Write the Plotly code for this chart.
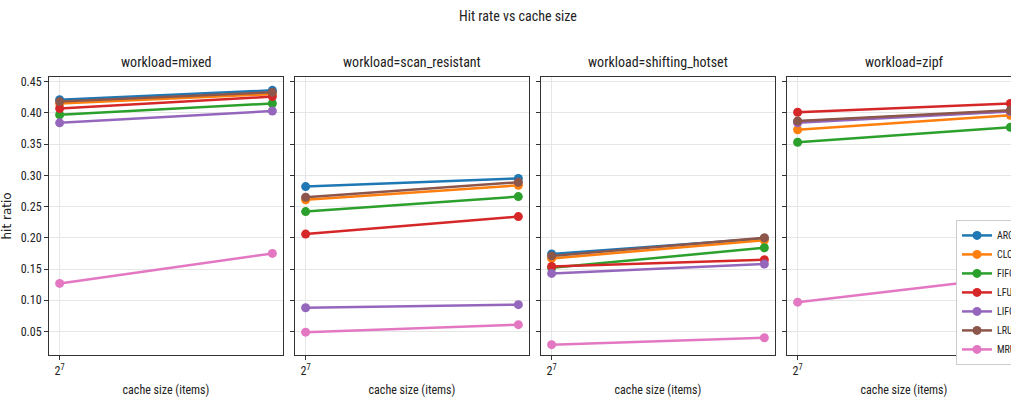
import math
import plotly.graph_objects as go

workloads = ["mixed", "scan_resistant", "shifting_hotset", "zipf"]
policies = ["ARC", "CLOCK", "FIFO", "LFU", "LIFO", "LRU", "MRU"]
cache_sizes = [128, 200]
colors = ["#1f77b4", "#ff7f0e", "#2ca02c", "#d62728", "#9467bd", "#8c564b", "#e377c2"]

hit_mixed = {
    "ARC": [0.421, 0.436], "CLOCK": [0.415, 0.430], "FIFO": [0.397, 0.415],
    "LFU": [0.407, 0.426], "LIFO": [0.384, 0.403], "LRU": [0.418, 0.433],
    "MRU": [0.127, 0.175],
}
hit_scan = {
    "ARC": [0.282, 0.295], "CLOCK": [0.261, 0.284], "FIFO": [0.242, 0.266],
    "LFU": [0.206, 0.234], "LIFO": [0.088, 0.093], "LRU": [0.265, 0.289],
    "MRU": [0.049, 0.061],
}
hit_shift = {
    "ARC": [0.174, 0.199], "CLOCK": [0.167, 0.196], "FIFO": [0.152, 0.184],
    "LFU": [0.154, 0.165], "LIFO": [0.143, 0.158], "LRU": [0.171, 0.200],
    "MRU": [0.029, 0.040],
}
hit_zipf = {
    "ARC": [0.386, 0.403], "CLOCK": [0.373, 0.396], "FIFO": [0.353, 0.377],
    "LFU": [0.401, 0.415], "LIFO": [0.384, 0.402], "LRU": [0.387, 0.404],
    "MRU": [0.097, 0.137],
}
data = [hit_mixed, hit_scan, hit_shift, hit_zipf]

y_ticks = [0.05, 0.10, 0.15, 0.20, 0.25, 0.30, 0.35, 0.40, 0.45]

W, H = 1036, 405
panels_px = [(49, 283), (295, 529), (541, 775), (787, 1021)]
top_px, bot_px = 75, 355
ydom = [(H - bot_px) / H, (H - top_px) / H]

FONT = "Liberation Sans Narrow, Roboto Condensed, Arial Narrow, Liberation Sans, sans-serif"

fig = go.Figure()
lx0, lx1 = math.log10(cache_sizes[0]), math.log10(cache_sizes[-1])
span = lx1 - lx0
xrange = [lx0 - 0.05 * span, lx1 + 0.05 * span]

for i, (wl, d) in enumerate(zip(workloads, data)):
    ax = "" if i == 0 else str(i + 1)
    for p, c in zip(policies, colors):
        fig.add_trace(go.Scatter(
            x=cache_sizes, y=d[p], mode="lines+markers", name=p,
            line=dict(color=c, width=2.5), marker=dict(color=c, size=9),
            xaxis="x" + ax, yaxis="y" + ax, showlegend=(i == 3),
        ))
    x0, x1 = panels_px[i]
    common = dict(showline=True, mirror=True, linecolor="#333", linewidth=1,
                  showgrid=True, gridcolor="#e6e6e6", gridwidth=1, zeroline=False,
                  ticks="outside", ticklen=4, tickcolor="#333",
                  tickfont=dict(family=FONT, size=12, color="#222"))
    fig.layout["xaxis" + ax] = dict(
        common, type="log", domain=[x0 / W, x1 / W], range=xrange,
        tickvals=[128], ticktext=["2<sup>7</sup>"], anchor="y" + ax,
        title=dict(text="cache size (items)", font=dict(family=FONT, size=12, color="#222"), standoff=8),
    )
    ydict = dict(common, domain=ydom, range=[0.012, 0.458], tickvals=y_ticks,
                 ticktext=[f"{v:.2f}" for v in y_ticks], anchor="x" + ax,
                 showticklabels=(i == 0))
    if i == 0:
        ydict["title"] = dict(text="hit ratio", font=dict(family="DejaVu Sans", size=12, color="#222"), standoff=12)
    fig.layout["yaxis" + ax] = ydict
    fig.add_annotation(text=f"workload={wl}", x=(x0 + x1) / 2 / W, y=(H - 60) / H,
                       xref="paper", yref="paper", showarrow=False, xanchor="center",
                       font=dict(family=FONT, size=14, color="#222"), yanchor="middle")

fig.update_layout(
    width=W, height=H, margin=dict(l=0, r=0, t=0, b=0),
    paper_bgcolor="white", plot_bgcolor="white",
    title=dict(text="Hit rate vs cache size", x=0.5, xanchor="center", y=(H - 16) / H, yanchor="middle",
               font=dict(family=FONT, size=14, color="#222")),
    legend=dict(x=956 / W, y=(H - 219) / H, xanchor="left", yanchor="top",
                bgcolor="white", bordercolor="#cccccc", borderwidth=1, itemwidth=30,
                font=dict(family=FONT, size=10, color="#222"), tracegroupgap=0),
    showlegend=True,
)

fig.write_html("out.html", config={"displayModeBar": False},
               post_script="document.body.style.margin='0';document.body.style.overflow='hidden';")
